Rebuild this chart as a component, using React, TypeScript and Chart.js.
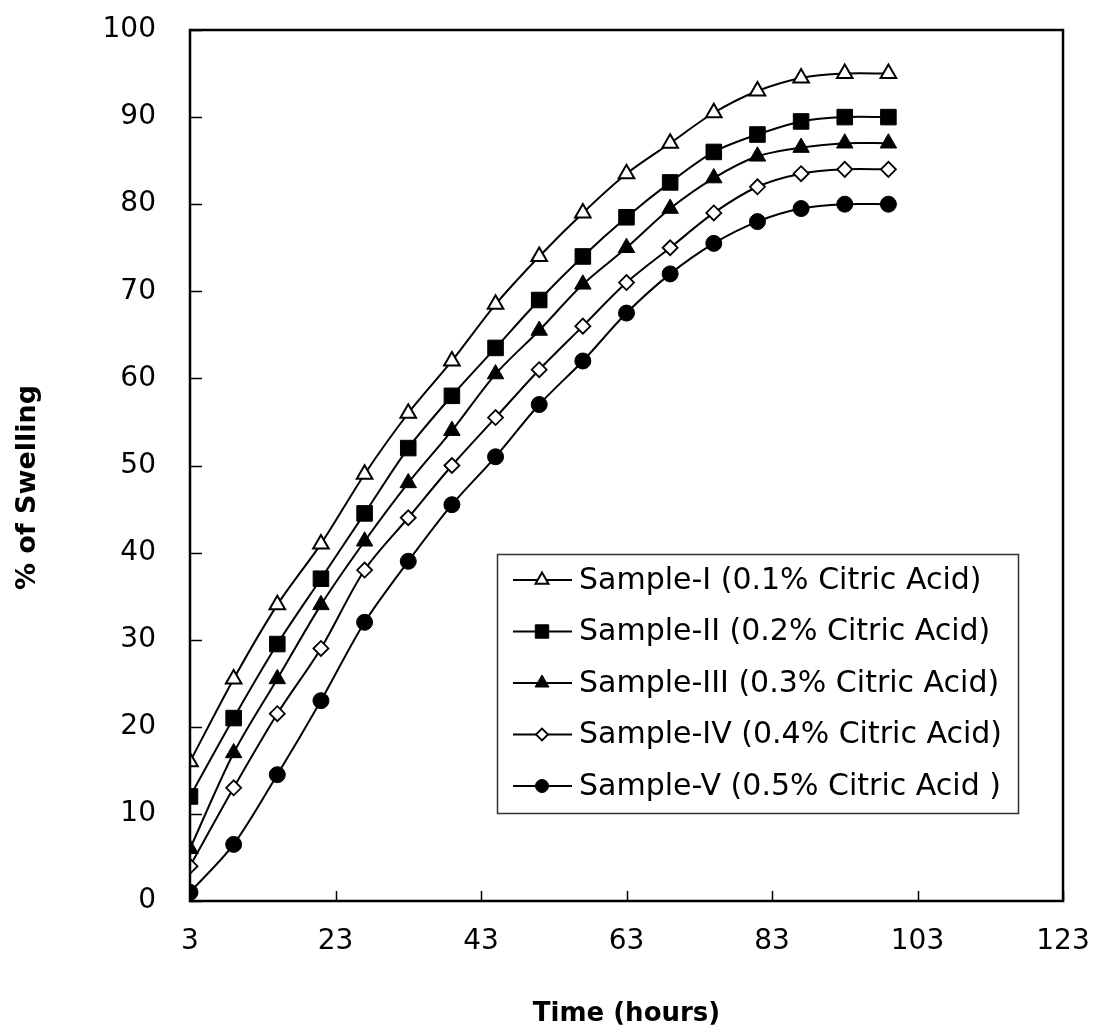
import React, { useEffect, useRef } from "react";
import { Chart, registerables } from "chart.js";
import { drawPoint } from "chart.js/helpers";

Chart.register(...registerables);

// ---------- data ----------
const timeHours = [3, 9, 15, 21, 27, 33, 39, 45, 51, 57, 63, 69, 75, 81, 87, 93, 99];
const sample1 = [16, 25.5, 34, 41, 49, 56, 62, 68.5, 74, 79, 83.5, 87, 90.5, 93, 94.5, 95, 95];
const sample2 = [12, 21, 29.5, 37, 44.5, 52, 58, 63.5, 69, 74, 78.5, 82.5, 86, 88, 89.5, 90, 90];
const sample3 = [6, 17, 25.5, 34, 41.3, 48, 54, 60.5, 65.5, 70.8, 75, 79.5, 83, 85.5, 86.5, 87, 87];
const sample4 = [4, 13, 21.5, 29, 38, 44, 50, 55.5, 61, 66, 71, 75, 79, 82, 83.5, 84, 84];
const sample5 = [1, 6.5, 14.5, 23, 32, 39, 45.5, 51, 57, 62, 67.5, 72, 75.5, 78, 79.5, 80, 80];
const seriesLabels = [
  "Sample-I (0.1% Citric Acid)",
  "Sample-II (0.2% Citric Acid)",
  "Sample-III (0.3% Citric Acid)",
  "Sample-IV (0.4% Citric Acid)",
  "Sample-V (0.5% Citric Acid )",
];
const xMin = 3;
const xMax = 123;
const xStep = 20;
const yMin = 0;
const yMax = 100;
const yStep = 10;
const xTitle = "Time (hours)";
const yTitle = "% of Swelling";

const FONT = "'DejaVu Sans', 'Liberation Sans', Arial, sans-serif";

const seriesValues = [sample1, sample2, sample3, sample4, sample5];
const seriesStyles = [
  { pointStyle: "triangle", fill: "#ffffff", radius: 9, bw: 2 },
  { pointStyle: "rect", fill: "#000000", radius: 11, bw: 1 },
  { pointStyle: "triangle", fill: "#000000", radius: 9.5, bw: 1 },
  { pointStyle: "rectRot", fill: "#ffffff", radius: 7.5, bw: 1.8 },
  { pointStyle: "circle", fill: "#000000", radius: 8, bw: 1 },
];

const decorPlugin = {
  id: "decor",
  afterDraw(chart: any) {
    const { ctx, chartArea } = chart;
    const { left, right, top, bottom } = chartArea;
    const xs = chart.scales.x;
    const ys = chart.scales.y;
    ctx.save();
    // inner tick marks
    ctx.strokeStyle = "#000";
    ctx.lineWidth = 1.5;
    ctx.beginPath();
    xs.ticks.forEach((t: any) => {
      const px = Math.round(xs.getPixelForValue(t.value)) + 0.5;
      ctx.moveTo(px, bottom);
      ctx.lineTo(px, bottom - 10);
    });
    ys.ticks.forEach((t: any) => {
      const py = Math.round(ys.getPixelForValue(t.value)) + 0.5;
      ctx.moveTo(left, py);
      ctx.lineTo(left + 12, py);
    });
    ctx.stroke();
    // frame
    ctx.lineWidth = 2.5;
    ctx.strokeRect(left, top, right - left, bottom - top);

    // y title
    ctx.fillStyle = "#000";
    ctx.font = `bold 27px ${FONT}`;
    ctx.textAlign = "center";
    ctx.textBaseline = "middle";
    ctx.translate(28, (top + bottom) / 2 + 22);
    ctx.rotate(-Math.PI / 2);
    ctx.fillText(yTitle, 0, 0);
    ctx.restore();

    // legend
    ctx.save();
    const bx0 = 497, by0 = 554, bx1 = 1018, by1 = 813;
    ctx.strokeStyle = "#333";
    ctx.lineWidth = 1.5;
    ctx.strokeRect(bx0 + 0.5, by0 + 0.5, bx1 - bx0, by1 - by0);
    ctx.font = `30px ${FONT}`;
    ctx.textAlign = "left";
    ctx.textBaseline = "middle";
    chart.data.datasets.forEach((ds: any, i: number) => {
      const cy = 580 + i * 51.5;
      ctx.strokeStyle = "#000";
      ctx.lineWidth = 2;
      ctx.beginPath();
      ctx.moveTo(513, cy);
      ctx.lineTo(572, cy);
      ctx.stroke();
      ctx.fillStyle = ds.pointBackgroundColor;
      ctx.strokeStyle = "#000";
      ctx.lineWidth = ds.pointBorderWidth;
      drawPoint(ctx, { pointStyle: ds.pointStyle, rotation: 0, radius: ds.pointRadius - 1.5, borderWidth: ds.pointBorderWidth }, 542, cy);
      ctx.fillStyle = "#000";
      ctx.fillText(ds.label, 579, cy + 1);
    });
    ctx.restore();
  },
};

export default function App() {
  const ref = useRef<HTMLCanvasElement | null>(null);
  useEffect(() => {
    document.body.style.margin = "0";
    const canvas = ref.current;
    if (!canvas) return;
    const datasets = seriesValues.map((vals, i) => ({
      label: seriesLabels[i],
      data: timeHours.map((x, j) => ({ x, y: vals[j] })),
      borderColor: "#000",
      borderWidth: 2,
      backgroundColor: seriesStyles[i].fill,
      pointStyle: seriesStyles[i].pointStyle,
      pointRadius: seriesStyles[i].radius,
      pointBackgroundColor: seriesStyles[i].fill,
      pointBorderColor: "#000",
      pointBorderWidth: seriesStyles[i].bw,
      tension: 0.3,
      fill: false,
    }));
    const chart = new Chart(canvas, {
      type: "line",
      data: { datasets },
      options: {
        animation: false,
        responsive: false,
        devicePixelRatio: 1,
        layout: { padding: { top: 30, right: 30, left: 0, bottom: 0 } },
        plugins: { legend: { display: false }, tooltip: { enabled: false } },
        scales: {
          x: {
            type: "linear",
            min: xMin,
            max: xMax,
            border: { display: false },
            grid: { display: false, drawTicks: false },
            ticks: { stepSize: xStep, padding: 24, color: "#000", font: { family: FONT, size: 28 }, maxRotation: 0 },
            title: { display: true, text: xTitle, color: "#000", font: { family: FONT, size: 26, weight: "bold" }, padding: { top: 0, bottom: 4 } },
            afterFit: (s: any) => {
              s.height = 133;
              s.paddingLeft = 0;
              s.paddingRight = 0;
            },
          },
          y: {
            type: "linear",
            min: yMin,
            max: yMax,
            border: { display: false },
            grid: { display: false, drawTicks: false },
            ticks: { stepSize: yStep, padding: 34, color: "#000", font: { family: FONT, size: 28 } },
            afterFit: (s: any) => {
              s.width = 190;
              s.paddingTop = 0;
              s.paddingBottom = 0;
            },
          },
        },
      },
      plugins: [decorPlugin],
    } as any);
    return () => chart.destroy();
  }, []);
  return (
    <div style={{ width: 1093, height: 1034, background: "#fff" }}>
      <canvas ref={ref} width={1093} height={1034} style={{ display: "block" }} />
    </div>
  );
}
